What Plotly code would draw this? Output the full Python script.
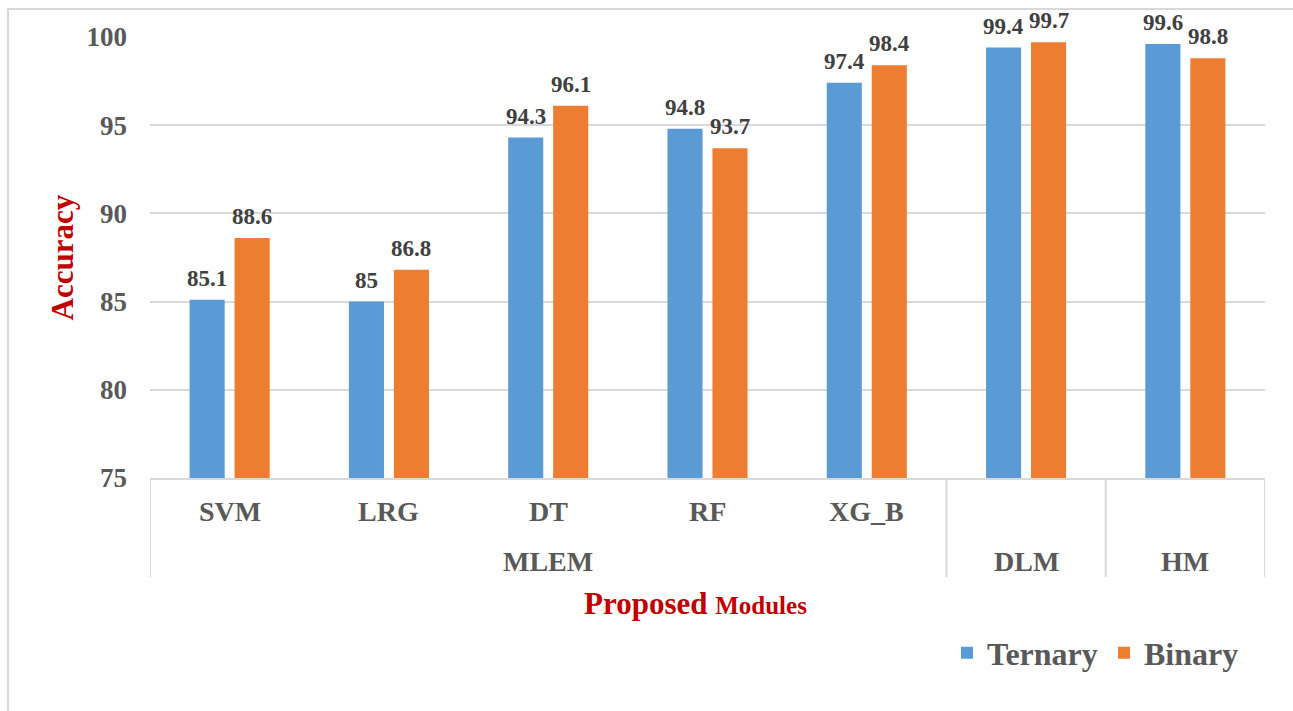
import plotly.graph_objects as go

# ---- data ----
models = ["SVM", "LRG", "DT", "RF", "XG_B", "DLM", "HM"]
groups = ["MLEM", "MLEM", "MLEM", "MLEM", "MLEM", "DLM", "HM"]
ternary = [85.1, 85, 94.3, 94.8, 97.4, 99.4, 99.6]
binary = [88.6, 86.8, 96.1, 93.7, 98.4, 99.7, 98.8]
y_ticks = [75, 80, 85, 90, 95, 100]

W, H = 1293, 711
L, R, T, B = 150, 1265, 37, 478  # plot area pixels
pw, ph = R - L, B - T


def px_x(p):
    return (p - L) / pw


def px_y(p):
    return (B - p) / ph


FONT = "Liberation Serif, Times New Roman, serif"
GRAY = "#595959"
LABEL = "#404040"
RED = "#C00000"
LINE = "#d9d9d9"
BARGAP = 0.435
BARGROUPGAP = 0.22

xs = list(range(len(models)))
series = [("Ternary", ternary, "#5B9BD5"), ("Binary", binary, "#ED7D31")]

fig = go.Figure()
for name, vals, col in series:
    fig.add_trace(go.Bar(name=name, x=xs, y=vals,
                         marker=dict(color=col, line=dict(width=0))))

annotations = []
shapes = []

# data labels above bars (offset from the group's slot geometry)
slot = (1 - BARGAP) / len(series)
for k, (name, vals, col) in enumerate(series):
    off = (k - (len(series) - 1) / 2) * slot
    for i, v in enumerate(vals):
        annotations.append(dict(
            x=i + off, xref="x", y=v, yref="y", text=f"{v:g}", showarrow=False,
            xanchor="center", yanchor="bottom", yshift=7,
            font=dict(family=FONT, size=23, color=LABEL, weight="bold")))

# row-1 labels (only where model differs from its group)
for i, (m, g) in enumerate(zip(models, groups)):
    if m != g:
        annotations.append(dict(
            x=i, xref="x", y=px_y(511), yref="paper", text=m, showarrow=False,
            xanchor="center", yanchor="middle",
            font=dict(family=FONT, size=28, color=GRAY, weight="bold")))

# group labels and separators
uniq = []
for g in groups:
    if g not in uniq:
        uniq.append(g)
bounds = [-0.5]
for g in uniq:
    idx = [i for i, gg in enumerate(groups) if gg == g]
    annotations.append(dict(
        x=sum(idx) / len(idx), xref="x", y=px_y(561), yref="paper", text=g,
        showarrow=False, xanchor="center", yanchor="middle",
        font=dict(family=FONT, size=28, color=GRAY, weight="bold")))
    bounds.append(max(idx) + 0.5)
for b in bounds:
    shapes.append(dict(type="line", xref="x", yref="paper", x0=b, x1=b,
                       y0=0, y1=px_y(577), line=dict(color=LINE, width=2)))

# axis titles
annotations.append(dict(
    x=px_x(62), xref="paper", y=0.5, yref="paper", text="Accuracy", textangle=-90,
    showarrow=False, xanchor="center", yanchor="middle",
    font=dict(family=FONT, size=31, color=RED, weight="bold")))
annotations.append(dict(
    x=px_x(695), xref="paper", y=px_y(603), yref="paper",
    text="Proposed <span style='font-size:25px'>Modules</span>",
    showarrow=False, xanchor="center", yanchor="middle",
    font=dict(family=FONT, size=31, color=RED, weight="bold")))

# outer border
shapes.append(dict(type="rect", xref="paper", yref="paper",
                   x0=px_x(8), x1=px_x(1310), y0=px_y(730), y1=px_y(9),
                   line=dict(color=LINE, width=2), fillcolor="rgba(0,0,0,0)"))

fig.update_layout(
    width=W, height=H,
    margin=dict(l=L, r=W - R, t=T, b=H - B, pad=0),
    paper_bgcolor="white", plot_bgcolor="white",
    barmode="group", bargap=BARGAP, bargroupgap=BARGROUPGAP,
    showlegend=True,
    legend=dict(orientation="h", x=px_x(947), xanchor="left", y=px_y(653),
                yanchor="middle", entrywidth=112,
                font=dict(family=FONT, size=32, color=GRAY, weight="bold"),
                itemclick=False, bgcolor="rgba(0,0,0,0)"),
    annotations=annotations, shapes=shapes,
    xaxis=dict(range=[-0.5, len(models) - 0.5], showticklabels=False, ticks="",
               showgrid=False, zeroline=False, showline=True, linecolor=LINE, linewidth=2),
    yaxis=dict(range=[75, 100], tickvals=y_ticks, showgrid=True, gridcolor=LINE,
               gridwidth=2, zeroline=False, showline=False, ticks="",
               ticklabelstandoff=22,
               tickfont=dict(family=FONT, size=27, color=GRAY, weight="bold")),
)

fig.write_html("out.html")
